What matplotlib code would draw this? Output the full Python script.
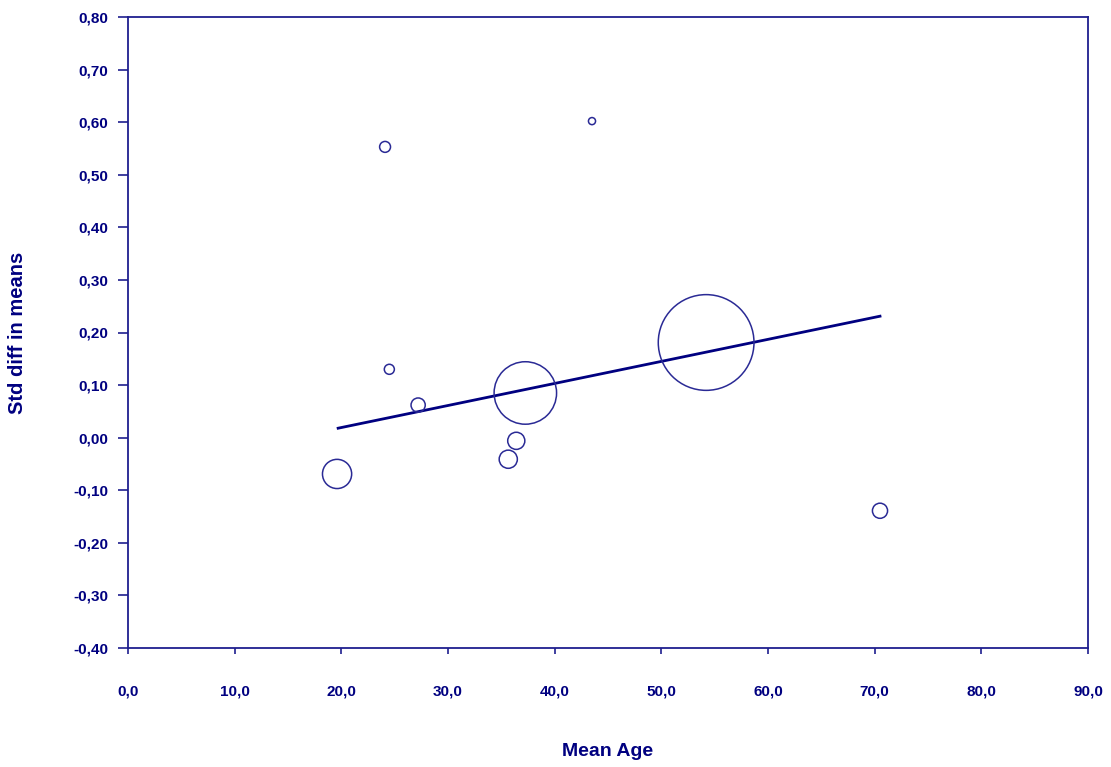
"""
plot.py - meta-regression bubble plot: Std diff in means vs Mean Age
"""
import matplotlib
matplotlib.use("Agg")
import matplotlib.pyplot as plt
from matplotlib.ticker import FuncFormatter

# study data
mean_age = [19.6, 24.1, 24.5, 27.2, 35.65, 36.4, 37.25, 43.5, 54.2, 70.5]
std_diff = [-0.069, 0.553, 0.130, 0.062, -0.041, -0.006, 0.085, 0.602, 0.181, -0.139]
# relative study weights (bubble area)
weight = [9.3, 1.3, 1.1, 2.2, 3.6, 3.2, 42.6, 0.55, 100.0, 2.5]

# fitted regression line end points
fit_x = [19.7, 70.5]
fit_y = [0.018, 0.231]

x_ticks = [0, 10, 20, 30, 40, 50, 60, 70, 80, 90]
y_ticks = [-0.4, -0.3, -0.2, -0.1, 0.0, 0.1, 0.2, 0.3, 0.4, 0.5, 0.6, 0.7, 0.8]

TEXT = "#000080"
AXIS = "#1f1f8f"

plt.rcParams['font.family'] = ['Liberation Sans', 'DejaVu Sans']
plt.rcParams['font.weight'] = 'bold'

fig = plt.figure(figsize=(11.11, 7.67), dpi=100)
fig.patch.set_facecolor('white')
ax = fig.add_axes([128 / 1111, 1 - 648 / 767, (1088 - 128) / 1111, (648 - 17) / 767])

# bubbles, area proportional to weight
sizes = [w * 47.5 for w in weight]
ax.scatter(mean_age, std_diff, s=sizes, facecolors='none', edgecolors='#2a2a95',
           linewidths=1.1, zorder=3)

ax.plot(fit_x, fit_y, color=TEXT, linewidth=2, zorder=2)

ax.set_xlim(0, 90)
ax.set_ylim(-0.4, 0.8)
ax.set_xticks(x_ticks)
ax.set_yticks(y_ticks)
ax.xaxis.set_major_formatter(FuncFormatter(lambda v, p: f"{v:.1f}".replace('.', ',')))
ax.yaxis.set_major_formatter(FuncFormatter(lambda v, p: f"{v:.2f}".replace('.', ',')))

for s in ax.spines.values():
    s.set_color(AXIS)
    s.set_linewidth(1.3)

ax.tick_params(axis='x', direction='out', length=4, width=1.2, color=AXIS,
               pad=22, labelsize=11, labelcolor=TEXT)
ax.tick_params(axis='y', direction='out', length=7, width=1.2, color=AXIS,
               pad=7, labelsize=11, labelcolor=TEXT)
for lbl in ax.get_xticklabels() + ax.get_yticklabels():
    lbl.set_fontweight('bold')

ax.set_xlabel('Mean Age', fontsize=14, fontweight='bold', color=TEXT, labelpad=32)
fig.text(18 / 1111, 1 - 333 / 767, 'Std diff in means', rotation=90, ha='center', va='center',
         fontsize=14.5, fontweight='bold', color=TEXT)

plt.savefig("out.png", dpi=100, facecolor='white')
